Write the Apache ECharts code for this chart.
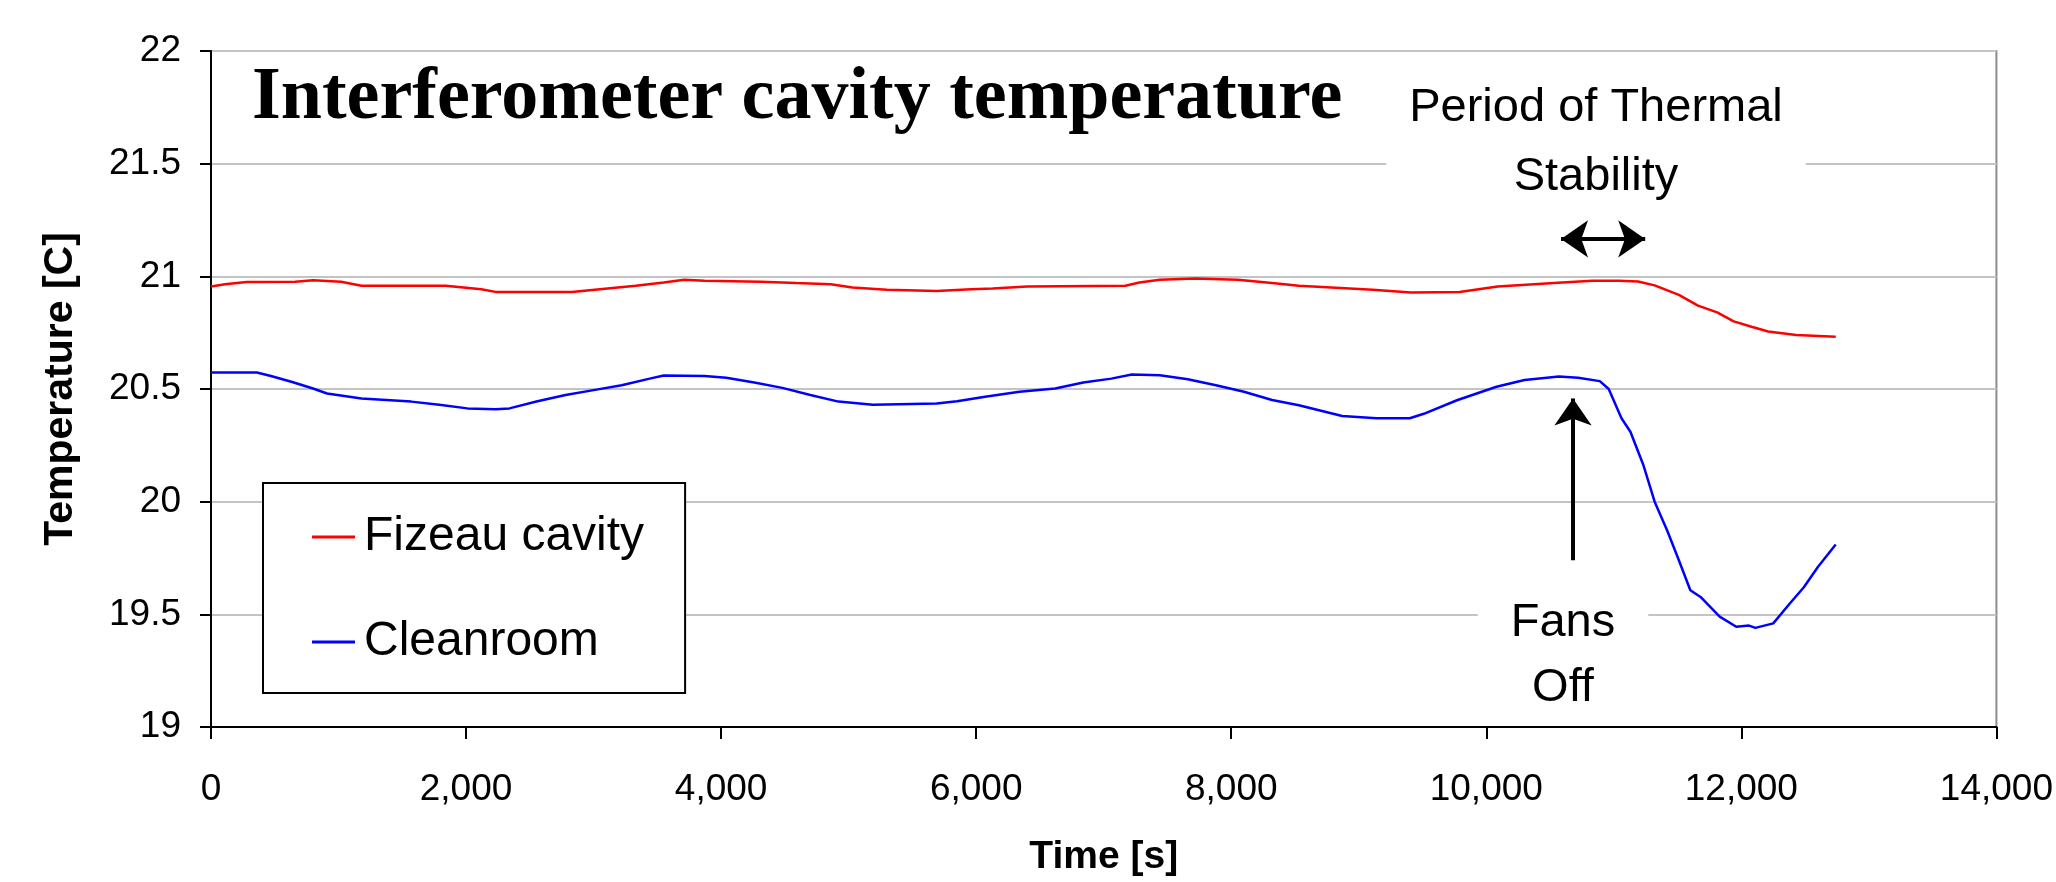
<!DOCTYPE html>
<html>
<head>
<meta charset="utf-8">
<title>Interferometer cavity temperature</title>
<script src="https://cdn.jsdelivr.net/npm/echarts@6/dist/echarts.min.js"></script>
<style>
  html, body { margin: 0; padding: 0; background: #fff; }
  #chart { width: 2056px; height: 882px; }
</style>
</head>
<body>
<div id="chart"></div>
<script>
// values (time in s, temperature in C)
const fizeauTime = [0, 110, 280, 660, 800, 1020, 1180, 1840, 2120, 2230, 2830, 3110, 3330, 3550, 3710, 3870,
  4310, 4590, 4860, 5030, 5300, 5690, 5960, 6130, 6400, 7170, 7280, 7440, 7720, 8050, 8320, 8530, 8640,
  9110, 9410, 9790, 10090, 10530, 10830, 11040, 11190, 11320, 11510, 11660, 11810, 11940, 12080, 12210,
  12430, 12740]
const fizeauTemp = [20.955, 20.965, 20.975, 20.976, 20.983, 20.976, 20.958, 20.958, 20.943, 20.931, 20.931,
  20.946, 20.958, 20.973, 20.985, 20.98, 20.976, 20.97, 20.965, 20.95, 20.94, 20.935, 20.943, 20.946, 20.955,
  20.958, 20.973, 20.985, 20.99, 20.985, 20.97, 20.958, 20.955, 20.94, 20.928, 20.93, 20.955, 20.97, 20.98,
  20.98, 20.977, 20.96, 20.918, 20.87, 20.84, 20.8, 20.776, 20.755, 20.74, 20.732]

const cleanroomTime = [0, 360, 470, 630, 800, 910, 1180, 1570, 1790, 2010, 2230, 2340, 2560, 2780, 3000, 3220,
  3440, 3550, 3870, 4040, 4260, 4480, 4700, 4920, 5190, 5690, 5850, 6070, 6340, 6620, 6840, 7060, 7220, 7440,
  7660, 7880, 8100, 8320, 8530, 8870, 9140, 9400, 9510, 9770, 10080, 10300, 10570, 10720, 10890, 10960,
  11060, 11130, 11230, 11320, 11420, 11510, 11600, 11680, 11830, 11960, 12060, 12110, 12250, 12380, 12490,
  12600, 12740]
const cleanroomTemp = [20.573, 20.573, 20.558, 20.532, 20.502, 20.48, 20.458, 20.444, 20.43, 20.414, 20.41,
  20.414, 20.446, 20.473, 20.495, 20.517, 20.546, 20.56, 20.558, 20.55, 20.529, 20.505, 20.473, 20.444, 20.43,
  20.436, 20.446, 20.466, 20.488, 20.502, 20.529, 20.546, 20.564, 20.561, 20.543, 20.517, 20.488, 20.451,
  20.428, 20.38, 20.37, 20.37, 20.39, 20.45, 20.51, 20.54, 20.555, 20.55, 20.535, 20.5, 20.37, 20.31, 20.165,
  20.0, 19.87, 19.74, 19.607, 19.577, 19.49, 19.445, 19.45, 19.44, 19.46, 19.548, 19.62, 19.71, 19.81]

const seriesNames = ['Fizeau cavity', 'Cleanroom']

// annotation arrows (data coordinates)
const stabilityArrow = [[10586, 21.166], [11246, 21.166]]
const fansOffArrow = [[10680, 19.74], [10680, 20.458]]

const font = 'Liberation Sans, Arial, sans-serif'

const myChart = echarts.init(document.getElementById('chart'))
const option = {
  animation: false,
  grid: {
    left: 211,
    right: 55,
    top: 51,
    bottom: 151,
    show: true,
    borderColor: '#8c8c8c',
    borderWidth: 2
  },
  legend: {
    orient: 'vertical',
    left: 263,
    top: 483,
    padding: [29, 41, 26, 49],
    itemGap: 55,
    itemWidth: 43,
    itemHeight: 3,
    icon: 'rect',
    selectedMode: false,
    backgroundColor: '#fff',
    borderColor: '#000',
    borderWidth: 2,
    textStyle: {
      fontFamily: font,
      fontSize: 48,
      color: '#000',
      lineHeight: 50,
      padding: [0, 0, 0, 4]
    },
    data: seriesNames
  },
  xAxis: {
    type: 'value',
    min: 0,
    max: 14000,
    interval: 2000,
    name: 'Time [s]',
    nameLocation: 'middle',
    nameGap: 111,
    nameTextStyle: { fontFamily: font, fontSize: 39, fontWeight: 'bold', color: '#000' },
    axisLine: { lineStyle: { color: '#000', width: 2 } },
    axisTick: { show: true, length: 12, lineStyle: { color: '#000', width: 2 } },
    axisLabel: {
      margin: 44,
      fontFamily: font,
      fontSize: 37,
      color: '#000',
      formatter: function (v) { return v.toLocaleString('en-US') }
    },
    splitLine: { show: false }
  },
  yAxis: {
    type: 'value',
    min: 19,
    max: 22,
    interval: 0.5,
    name: 'Temperature [C]',
    nameLocation: 'middle',
    nameGap: 130,
    nameTextStyle: { fontFamily: font, fontSize: 41, fontWeight: 'bold', color: '#000' },
    axisLine: { show: true, lineStyle: { color: '#000', width: 2 } },
    axisTick: { show: true, length: 11, lineStyle: { color: '#000', width: 2 } },
    axisLabel: { margin: 30, fontFamily: font, fontSize: 37, color: '#000' },
    splitLine: { show: true, lineStyle: { color: '#c4c4c4', width: 2 } }
  },
  series: [
    {
      name: seriesNames[0],
      type: 'line',
      data: fizeauTime.map((t, i) => [t, fizeauTemp[i]]),
      showSymbol: false,
      symbol: 'none',
      color: '#ff0000',
      lineStyle: { color: '#ff0000', width: 2.5 },
      z: 3,
      markLine: {
        silent: true,
        symbol: ['arrow', 'arrow'],
        symbolSize: [28, 27],
        label: { show: false },
        lineStyle: { color: '#000', width: 4, type: 'solid' },
        data: [
          [{ coord: stabilityArrow[0] }, { coord: stabilityArrow[1] }],
          [{ coord: fansOffArrow[0], symbol: 'none' }, { coord: fansOffArrow[1], symbol: 'arrow' }]
        ]
      }
    },
    {
      name: seriesNames[1],
      type: 'line',
      data: cleanroomTime.map((t, i) => [t, cleanroomTemp[i]]),
      showSymbol: false,
      symbol: 'none',
      color: '#0000ff',
      lineStyle: { color: '#0000ff', width: 2.5 },
      z: 3
    }
  ],
  graphic: [
    {
      type: 'text',
      left: 252,
      top: 62,
      z: 10,
      style: {
        text: 'Interferometer cavity temperature',
        fontFamily: 'Liberation Serif, Times New Roman, serif',
        fontWeight: 'bold',
        fontSize: 74,
        fill: '#000'
      }
    },
    {
      type: 'text',
      x: 1596,
      y: 143,
      z: 10,
      style: {
        text: 'Period of Thermal\nStability',
        fontFamily: font,
        fontSize: 47,
        lineHeight: 69,
        align: 'center',
        verticalAlign: 'middle',
        fill: '#000',
        backgroundColor: '#fff',
        padding: [0, 23]
      }
    },
    {
      type: 'text',
      x: 1563,
      y: 656,
      z: 10,
      style: {
        text: 'Fans\nOff',
        fontFamily: font,
        fontSize: 47,
        lineHeight: 65,
        align: 'center',
        verticalAlign: 'middle',
        fill: '#000',
        backgroundColor: '#fff',
        padding: [0, 33]
      }
    }
  ]
}
myChart.setOption(option)
window.addEventListener('resize', function () {
  myChart.resize()
})
</script>
</body>
</html>
